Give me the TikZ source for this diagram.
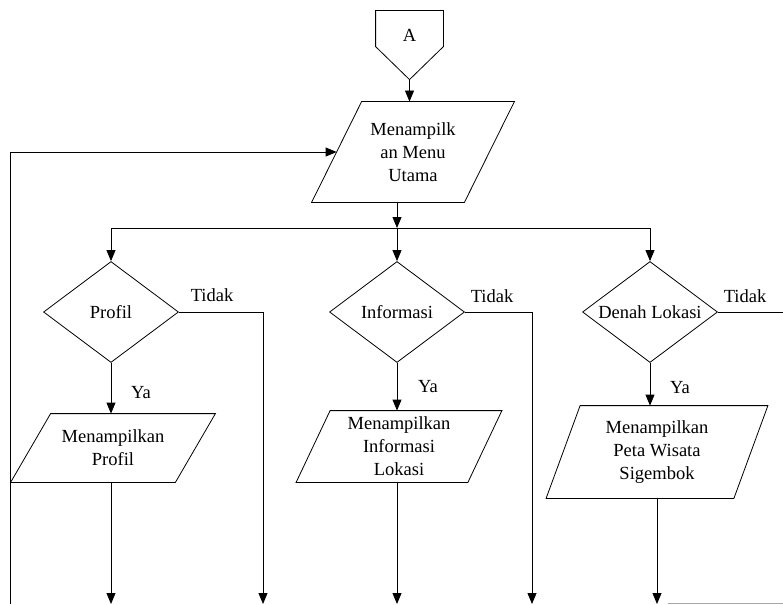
\documentclass[tikz,border=0pt]{standalone}
\usepackage{fontspec}
\setmainfont{Liberation Serif}
\usetikzlibrary{arrows.meta, positioning, shapes.geometric, calc}

\begin{document}
\begin{tikzpicture}[
  x=1pt, y=-1pt,
  every node/.style={font=\fontsize{18.5}{23}\selectfont},
  decision/.style={draw, diamond, minimum width=135, minimum height=101, inner sep=0pt},
  io/.style={inner sep=0pt, align=center},
  offpage/.style={inner sep=0pt, minimum width=67, minimum height=48},
  arrow/.style={-{Triangle[length=11pt, width=9pt]}},
  line width=0.8pt
]
\useasboundingbox (0,0) rectangle (783,604);

\node[offpage] (conA) at (409.5,35) {A};
\node[io, minimum width=152, minimum height=100] (menu) at (413,152) {Menampilk\\an Menu\\Utama};

\node[decision] (profil) at (111,312) {\makebox[0pt]{Profil}};
\node[decision] (info) at (397,312) {\makebox[0pt]{Informasi}};
\node[decision] (denah) at (650,312) {\makebox[0pt]{Denah Lokasi}};

\node[io, minimum width=164, minimum height=68] (prof) at (113,448) {Menampilkan\\Profil};
\node[io, minimum width=171, minimum height=71] (infolok) at (399,446.5) {Menampilkan\\Informasi\\Lokasi};
\node[io, minimum width=187, minimum height=92] (peta) at (657,452) {Menampilkan\\Peta Wisata\\Sigembok};

\node (tidakA) at (212,295) {Tidak};
\node (tidakB) at (492,296) {Tidak};
\node (tidakC) at (745,296) {Tidak};
\node (yaA) at (141,393) {Ya};
\node (yaB) at (428,387) {Ya};
\node (yaC) at (680,388) {Ya};

\coordinate (split) at (397,228);
\coordinate (bottom) at (0,604);
\coordinate (loop) at (10,604);
\coordinate (noA) at (263,604);
\coordinate (noB) at (532,604);
\coordinate (noC) at (783,312);
\coordinate (rightin) at (668,603);
\coordinate (rightout) at (783,603);

% off-page connector and input/output shapes
\draw (conA.north west) -- (conA.north east) -- ++(0,36)
  -- ($(conA.north)+(0,69)$) coordinate (conAtip)
  -- ($(conA.north west)+(0,36)$) -- cycle;
\draw ($(menu.south west)+(-25,0)$) -- ($(menu.north west)+(25,0)$)
  -- ($(menu.north east)+(25,0)$) -- ($(menu.south east)+(-25,0)$) -- cycle;
\draw ($(prof.south west)+(-20,0)$) -- ($(prof.north west)+(20,0)$)
  -- ($(prof.north east)+(20,0)$) -- ($(prof.south east)+(-20,0)$) -- cycle;
\draw ($(infolok.south west)+(-17,0)$) -- ($(infolok.north west)+(17,0)$)
  -- ($(infolok.north east)+(17,0)$) -- ($(infolok.south east)+(-17,0)$) -- cycle;
\draw ($(peta.south west)+(-17,0)$) -- ($(peta.north west)+(17,0)$)
  -- ($(peta.north east)+(17,0)$) -- ($(peta.south east)+(-17,0)$) -- cycle;

\draw[arrow] (conAtip) -- (conAtip |- menu.north);
\draw[arrow] (split |- menu.south) -- (split);
\draw[arrow] (split) -| (profil.north);
\draw[arrow] (split) -- (info.north);
\draw[arrow] (split) -| (denah.north);
\draw[arrow] (loop) |- (menu.west);

\draw[arrow] (profil.south) -- (profil.south |- prof.north);
\draw[arrow] (info.south) -- (info.south |- infolok.north);
\draw[arrow] (denah.south) -- (denah.south |- peta.north);

\draw[arrow] (profil.east) -| (noA);
\draw[arrow] (info.east) -| (noB);
\draw (denah.east) -- (noC);

\draw[arrow] (profil.south |- prof.south) -- (profil.south |- bottom);
\draw[arrow] (info.south |- infolok.south) -- (info.south |- bottom);
\draw[arrow] (peta.south) -- (peta.south |- bottom);
\draw[black!35] (rightin) -- (rightout);
\end{tikzpicture}
\end{document}
